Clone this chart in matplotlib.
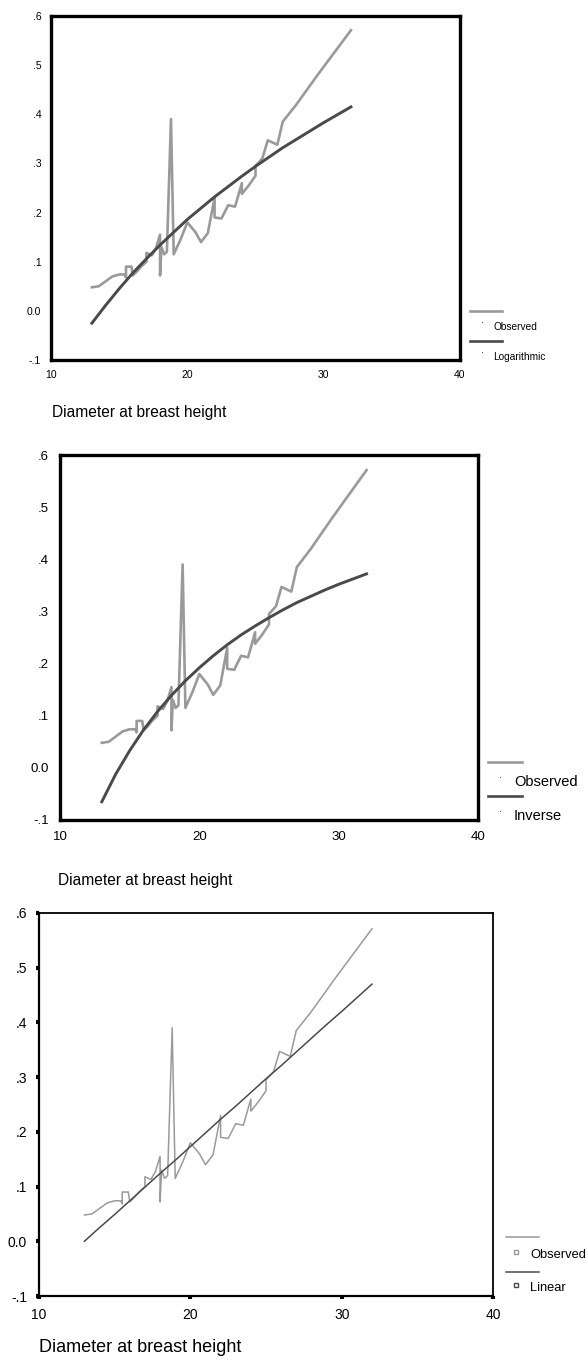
import matplotlib
matplotlib.use("Agg")
import matplotlib.pyplot as plt
from matplotlib.lines import Line2D

plt.rcParams['font.family'] = ['Liberation Sans', 'DejaVu Sans']

obs_x = [13.0, 13.5, 14.0, 14.5, 15.0, 15.4, 15.5, 15.5, 15.9, 16.0, 16.3, 16.6,
         17.0, 17.0, 17.4, 17.7, 18.0, 18.0, 18.1, 18.3, 18.5, 18.8, 19.0, 19.5,
         20.0, 20.6, 21.0, 21.5, 22.0, 22.0, 22.5, 23.0, 23.5, 24.0, 24.0, 24.5,
         25.0, 25.0, 25.5, 25.9, 26.6, 27.0, 28.0, 29.5, 32.0]
obs_y = [0.048, 0.050, 0.060, 0.070, 0.074, 0.074, 0.068, 0.090, 0.090, 0.072, 0.080, 0.090,
         0.100, 0.118, 0.113, 0.128, 0.155, 0.072, 0.130, 0.115, 0.120, 0.390, 0.115, 0.145,
         0.180, 0.160, 0.140, 0.158, 0.230, 0.190, 0.188, 0.215, 0.212, 0.260, 0.238, 0.255,
         0.275, 0.295, 0.310, 0.347, 0.338, 0.385, 0.420, 0.478, 0.571]

# fitted curves
fit_x = [13, 14, 15, 16, 17, 18, 19, 20, 21, 22, 23, 24, 25, 26, 27, 28, 29, 30, 31, 32]
log_y = [-0.025, 0.011, 0.045, 0.077, 0.106, 0.134, 0.160, 0.186, 0.209, 0.232, 0.253,
         0.274, 0.294, 0.313, 0.332, 0.349, 0.366, 0.383, 0.399, 0.415]
inv_y = [-0.065, -0.012, 0.033, 0.073, 0.108, 0.139, 0.167, 0.192, 0.215, 0.236, 0.255,
         0.272, 0.288, 0.303, 0.317, 0.329, 0.341, 0.352, 0.362, 0.372]
lin_y = [0.000, 0.025, 0.049, 0.074, 0.099, 0.124, 0.148, 0.173, 0.198, 0.223, 0.247,
         0.272, 0.297, 0.321, 0.346, 0.371, 0.396, 0.420, 0.445, 0.470]

yticks = [-0.1, 0.0, 0.1, 0.2, 0.3, 0.4, 0.5, 0.6]
ylabels = ['-.1', '0.0', '.1', '.2', '.3', '.4', '.5', '.6']
xticks = [10, 20, 30, 40]

W, H = 588, 1363
fig = plt.figure(figsize=(W / 100, H / 100), dpi=100)


def px(x, y):
    return x / W, 1 - y / H


def box(l, t, r, b):
    return [l / W, 1 - b / H, (r - l) / W, (b - t) / H]


OBS = '#9a9a9a'
FIT = '#4a4a4a'

panels = [
    dict(rect=(51, 16, 460, 360), fit=log_y, name='Logarithmic', lw_o=1.9, lw_f=2.1,
         spine=2.4, fs=7.5, pad=7, lab=(52, 412), labfs=11.2,
         leg=(470, 502, 311, 341, 482, 493, 327, 357), legfs=7.3, dot=True),
    dict(rect=(60, 455, 478, 820), fit=inv_y, name='Inverse', lw_o=1.9, lw_f=2.1,
         spine=2.4, fs=9.5, pad=8, lab=(58, 880), labfs=11.2,
         leg=(488, 522, 762, 796, 500, 514, 782, 816), legfs=10.5, dot=True),
    dict(rect=(39, 913, 493, 1296), fit=lin_y, name='Linear', lw_o=1.1, lw_f=1.1,
         spine=1.6, fs=10, pad=6, lab=(39, 1347), labfs=13,
         leg=(506, 539, 1237, 1272, 516, 530, 1255, 1288), legfs=9.3, dot=False),
]

for p in panels:
    l, t, r, b = p['rect']
    ax = fig.add_axes(box(l, t, r, b))
    ax.plot(obs_x, obs_y, color=OBS, lw=p['lw_o'])
    ax.plot(fit_x, p['fit'], color=FIT, lw=p['lw_f'])
    ax.set_xlim(10, 40)
    ax.set_ylim(-0.1, 0.6)
    ax.set_xticks(xticks)
    ax.set_yticks(yticks)
    ax.set_yticklabels(ylabels)
    for s in ax.spines.values():
        s.set_linewidth(p['spine'])
    if p['dot']:
        ax.tick_params(length=0, labelsize=p['fs'], pad=p['pad'])
    else:
        ax.tick_params(direction='out', length=2.5, width=3, labelsize=p['fs'], pad=p['pad'])
        ax.spines['top'].set_linewidth(1.3)
        ax.spines['right'].set_linewidth(1.3)

    fig.text(*px(*p['lab']), 'Diameter at breast height', ha='left', va='center',
             fontsize=p['labfs'])

    x0, x1, y1, y2, mx, tx, ty1, ty2 = p['leg']
    for ly, ty, col, nm in [(y1, ty1, OBS, 'Observed'), (y2, ty2, FIT, p['name'])]:
        a, c = px(x0, ly)
        d, _ = px(x1, ly)
        fig.add_artist(Line2D([a, d], [c, c], color=col, lw=p['lw_o'] if p['dot'] else 1.1))
        if p['dot']:
            fig.add_artist(Line2D([px(mx, ty - 5)[0]], [px(mx, ty - 5)[1]], marker='s',
                                  markersize=0.7, markeredgewidth=0, color='#555555'))
        else:
            fig.add_artist(Line2D([px(mx, ty - 3)[0]], [px(mx, ty - 3)[1]], marker='s',
                                  markersize=3.5, markerfacecolor='white',
                                  markeredgecolor=col, markeredgewidth=1))
        fig.text(*px(tx, ty), nm, ha='left', va='center', fontsize=p['legfs'])

fig.savefig('out.png', dpi=100)
